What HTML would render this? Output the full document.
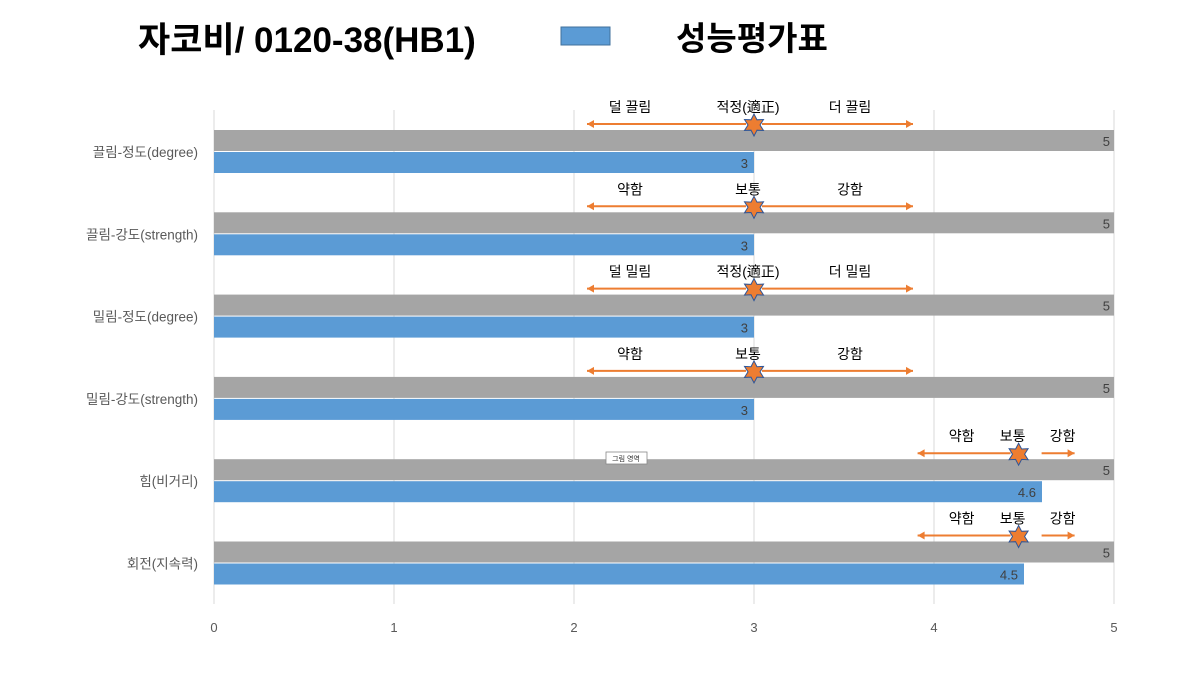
<!DOCTYPE html>
<html><head><meta charset="utf-8"><style>
body{margin:0;background:#fff;font-family:"Liberation Sans","Noto Sans CJK KR",sans-serif}
</style></head><body>
<svg id="c" width="1200" height="675" xmlns="http://www.w3.org/2000/svg" style="display:block;font-family:'Liberation Sans','Noto Sans CJK KR',sans-serif">
<text x="138" y="52" font-size="35" font-weight="bold" fill="#000">자코비/ 0120-38(HB1)</text>
<rect x="561" y="27" width="49" height="18" fill="#5b9bd5" stroke="#41719c"/>
<text x="676" y="50" font-size="33" font-weight="bold" fill="#000">성능평가표</text>
<g id="grid"></g><g id="bars"></g><g id="ann"></g>
<g><rect x="606" y="452" width="41" height="12" fill="#fff" stroke="#888" stroke-width="0.8"/><text x="626" y="461" font-size="7" text-anchor="middle" fill="#333">그림 영역</text></g>
</svg>
<script>
const categories=["끌림-정도(degree)","끌림-강도(strength)","밀림-정도(degree)","밀림-강도(strength)","힘(비거리)","회전(지속력)"];
const maxValues=[5,5,5,5,5,5];
const scoreValues=[3,3,3,3,4.6,4.5];
const starValues=[3,3,3,3,4.47,4.47];
const leftLabels=["덜 끌림","약함","덜 밀림","약함","약함","약함"];
const midLabels=["적정(適正)","보통","적정(適正)","보통","보통","보통"];
const rightLabels=["더 끌림","강함","더 밀림","강함","강함","강함"];
const ticks=[0,1,2,3,4,5];
const NS="http://www.w3.org/2000/svg";
const x=v=>214+v*180;
const rowTop=i=>130+i*82.3;
function el(t,a,p,txt){const e=document.createElementNS(NS,t);for(const k in a)e.setAttribute(k,a[k]);if(txt!=null)e.textContent=txt;document.getElementById(p).appendChild(e);return e;}
ticks.forEach(t=>{
 const l=el('line',{x1:x(t),x2:x(t),y1:110,y2:604,stroke:'#d9d9d9','stroke-width':1},'grid');
 
 
 const tx=el('text',{x:x(t),y:632,'font-size':13,'text-anchor':'middle',fill:'#595959'},'grid',t);
 
 
});
function star(cx,cy,r){let p=[];for(let k=0;k<12;k++){const a=-Math.PI/2+k*Math.PI/6;const rr=k%2?r*0.55:r;p.push((cx+rr*Math.cos(a)).toFixed(1)+','+(cy+rr*Math.sin(a)).toFixed(1));}return p.join(' ');}
function arrow(x1,x2,y,dir){const l=el('line',{x1,x2,y1:y,y2:y,stroke:'#ed7d31','stroke-width':2},'ann');
 const h=dir<0?`${x2},${y} ${x2+7},${y-4} ${x2+7},${y+4}`:`${x2},${y} ${x2-7},${y-4} ${x2-7},${y+4}`;
 const p=el('polygon',{points:h,fill:'#ed7d31'},'ann');}
categories.forEach((c,i)=>{
 const y=rowTop(i);
 const g=el('rect',{x:x(0),y:y,width:x(maxValues[i])-x(0),height:21,fill:'#a5a5a5'},'bars');
 
 
 const b=el('rect',{x:x(0),y:y+22,width:x(scoreValues[i])-x(0),height:21,fill:'#5b9bd5'},'bars');
 
 
 const t1=el('text',{x:x(maxValues[i])-4,y:y+16,'font-size':13,'text-anchor':'end',fill:'#404040'},'bars',maxValues[i]);
 
 
 const t2=el('text',{x:x(scoreValues[i])-6,y:y+38,'font-size':13,'text-anchor':'end',fill:'#404040'},'bars',scoreValues[i]);
 
 
 const cl=el('text',{x:198,y:y+27,'font-size':13.5,'text-anchor':'end',fill:'#595959'},'bars',c);
 
 
 const sx=x(starValues[i]);
 const ay=y-6, ty=y-18;
 let lx,rx,la,ra,rs;
 if(starValues[i]<4){lx=sx-124;rx=sx+96;la=sx-167;ra=sx+159;rs=sx+8;}else{lx=sx-57;rx=sx+44;la=sx-101;ra=sx+56;rs=sx+23;}
 arrow(sx-8,la,ay,-1);arrow(rs,ra,ay,1);
 [[lx,leftLabels[i],'annotation-left'],[sx-6,midLabels[i],'annotation-mid'],[rx,rightLabels[i],'annotation-right']].forEach(a=>{
  const t=el('text',{x:a[0],y:ty,'font-size':14,'text-anchor':'middle',fill:'#000'},'ann',a[1]);
  
  
 });
 const s=el('polygon',{points:star(sx,ay+1,11),fill:'#ed7d31',stroke:'#2f5597','stroke-width':1},'ann');
 
 
});
</script>
</body></html>
